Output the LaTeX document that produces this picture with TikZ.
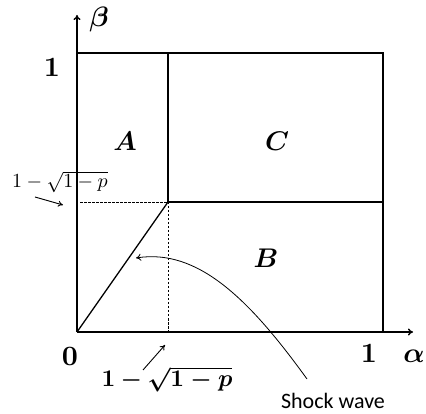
\documentclass[tikz,border=0pt]{standalone}
\usepackage{amsmath,bm}
\usepackage{fontspec}
\newfontfamily\shockfont{Carlito}
\usetikzlibrary{arrows.meta}
\newcommand{\bigmlab}[1]{\scalebox{2.8}{$\bm{#1}$}}
\newcommand{\regmlab}[1]{\scalebox{2.7}{$\bm{#1}$}}
\tikzset{
  axis/.style={line width=1.4pt,-{To[length=5pt,width=7pt]}},
  boxline/.style={line width=1.6pt},
  diag/.style={line width=1.3pt},
  guide/.style={line width=0.6pt,dash pattern=on 2.5pt off 1.5pt},
  pointer/.style={line width=0.9pt,-{To[length=5pt,width=6pt]}},
  lab/.style={inner sep=0pt},
}
\begin{document}
\begin{tikzpicture}[x=1pt,y=-1pt]
\useasboundingbox (0,0) rectangle (426,414);
\coordinate (O) at (77,332);
\coordinate (Y) at (77,15);
\coordinate (X) at (413,332);
\coordinate (TL) at (77,53);
\coordinate (TR) at (383,53);
\coordinate (BR) at (383,332);
\coordinate (M) at (168,202);
\coordinate (MT) at (168,53);
\coordinate (MB) at (168,332);
\coordinate (MR) at (383,202);
\coordinate (DL) at (80,202);
% labels
\node[lab] (lab1) at (60,182) {\scalebox{2.0}{$1-\sqrt{1-p}$}};
\node[lab] (lab2) at (167,379) {\scalebox{2.4}{$\bm{1-\sqrt{1-p}}$}};
\draw[axis] (O) -- (Y);
\draw[axis] (O) -- (X);
\draw[boxline] (TL) -- (TR) -- (BR);
\draw[boxline] (MT) -- (M) -- (MR);
\draw[diag] (O) -- (M);
\draw[guide] (DL) -- (M);
\draw[guide] (M) -- (MB);
\node[lab] (one) at (52,67) {\bigmlab{1}};
\node[lab] (zero) at (70,356) {\bigmlab{0}};
\node[lab] (onex) at (369,353) {\bigmlab{1}};
\node[lab] (alpha) at (414,356) {\bigmlab{\alpha}};
\node[lab] (beta) at (99,20) {\bigmlab{\beta}};
\node[lab] (A) at (125,141) {\regmlab{A}};
\node[lab] (C) at (277,141) {\regmlab{C}};
\node[lab] (B) at (266,258) {\regmlab{B}};
\node[lab,font=\shockfont\fontsize{22}{24}\selectfont] (shock) at (333,401) {Shock wave};
\coordinate (a1s) at (35,197);
\coordinate (a1e) at (63,205);
\coordinate (a2s) at (143,370);
\coordinate (a2e) at (165,345);
\draw[pointer] (a1s) -- (a1e);
\draw[pointer] (a2s) -- (a2e);
\coordinate (ss) at (307,379);
\coordinate (se) at (136,258);
\draw[line width=0.8pt,-{To[length=5pt,width=7pt]}] (ss) .. controls (250,300) and (198,248) .. (se);
\end{tikzpicture}
\end{document}
